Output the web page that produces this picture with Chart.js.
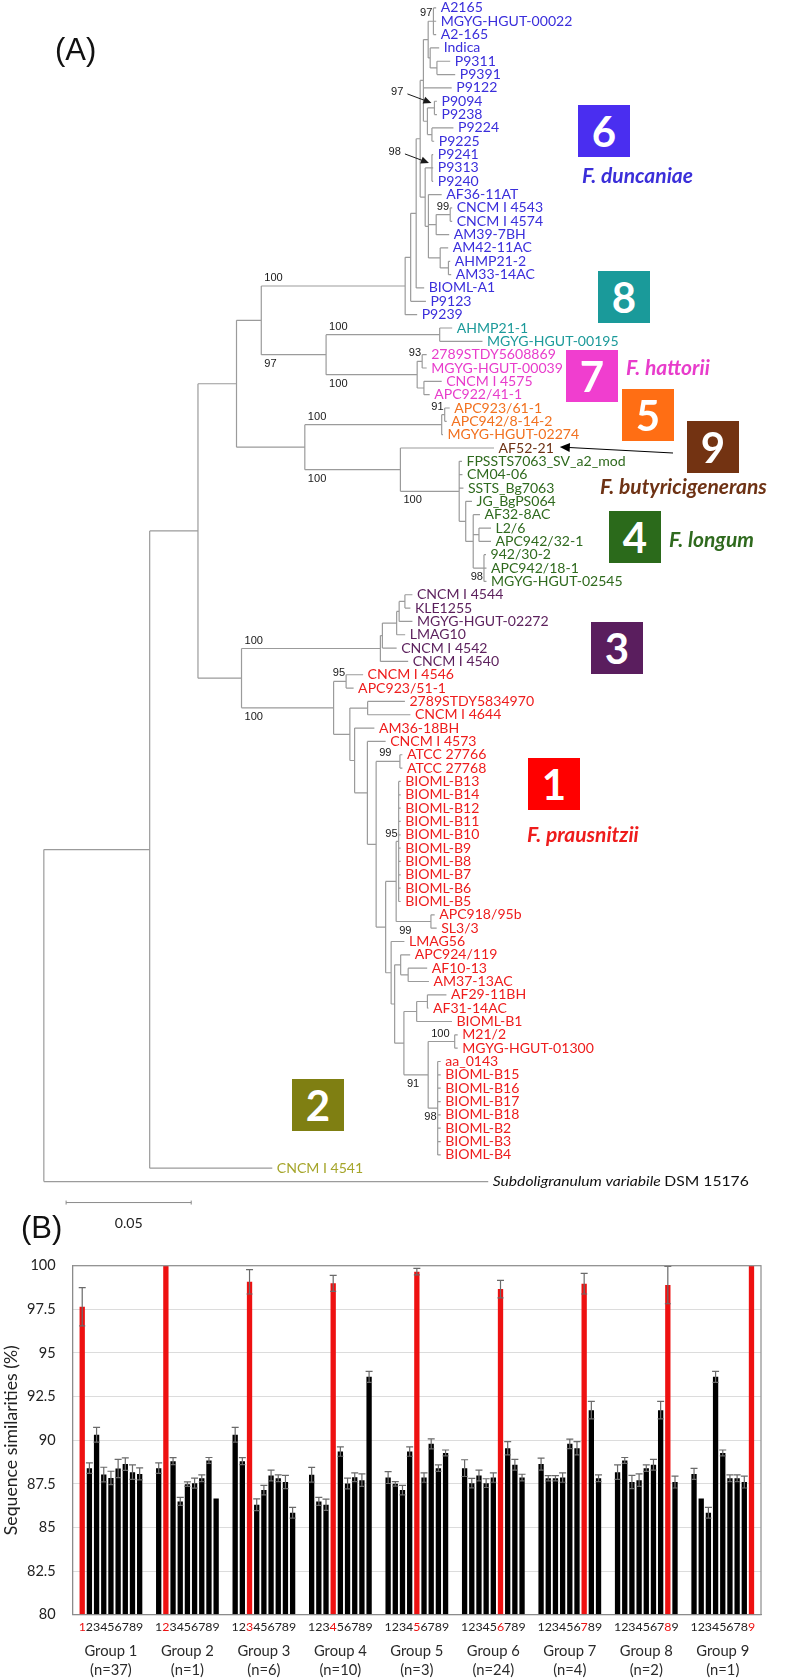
<!DOCTYPE html>
<html>
<head>
<meta charset="utf-8">
<script src="https://cdn.jsdelivr.net/npm/chart.js@4.4.1/dist/chart.umd.min.js"></script>
<style>
  body { margin: 0; background: #fff; }
  #fig { position: relative; width: 795px; height: 1680px; overflow: hidden; background: #fff; }
  canvas { position: absolute; left: 0; }
  .panel { position: absolute; font: 31px "Liberation Sans", Arial, sans-serif; color: #111; line-height: 1; }
  .box { position: absolute; width: 52px; height: 52px; color: #fff; font: bold 42px Lato, sans-serif;
         display: flex; align-items: center; justify-content: center; line-height: 1; }
  .sp { position: absolute; font: italic bold 21px Lato, sans-serif; line-height: 1; white-space: nowrap;
        transform: translateY(-50%); }
</style>
</head>
<body>
<div id="fig">
  <canvas id="tree" width="795" height="1240" style="top:0"></canvas>
  <canvas id="bars" width="795" height="440" style="top:1240px"></canvas>

  <div class="panel" style="left:55px;top:34px">(A)</div>
  <div class="panel" style="left:21px;top:1212px">(B)</div>

  <div class="box" style="left:578px;top:105px;background:#4a2ef0">6</div>
  <div class="box" style="left:598px;top:271px;background:#1a9a9a">8</div>
  <div class="box" style="left:566px;top:350px;background:#f03ecf">7</div>
  <div class="box" style="left:622px;top:389px;background:#ff6e14">5</div>
  <div class="box" style="left:687px;top:421px;background:#733312">9</div>
  <div class="box" style="left:609px;top:511px;background:#2b6a1b">4</div>
  <div class="box" style="left:591px;top:622px;background:#5a1e5e">3</div>
  <div class="box" style="left:528px;top:758px;background:#ff0000">1</div>
  <div class="box" style="left:292px;top:1079px;background:#7f7f12">2</div>

  <div class="sp" style="left:582px;top:174px;color:#3b2fd9">F. duncaniae</div>
  <div class="sp" style="left:626px;top:366px;color:#e83ccb">F. hattorii</div>
  <div class="sp" style="left:600px;top:485px;color:#6e3214">F. butyricigenerans</div>
  <div class="sp" style="left:669px;top:538px;color:#2f6a1e">F. longum</div>
  <div class="sp" style="left:527px;top:833px;color:#ee1c1c">F. prausnitzii</div>
</div>

<script>
// ---------- (A) tree: Newick pieces, branch lengths in substitutions/site ----------

// group 6, F. duncaniae
const c6Top = "((A2165:0.0011,MGYG-HGUT-00022:0.0011,A2-165:0.0011)97:0.0021,(Indica:0.0036,(P9311:0.0053,P9391:0.0073):0.0027):0.0008)";
const c6Mid = "((P9094:0.0010,P9238:0.0010)97*:0.0028,(P9224:0.0086,P9225:0.0009):0.0018)";
const c6Low = "((P9241:0.0005,P9313:0.0005,P9240:0.0005)98*:0.0027,(AF36-11AT:0.0053,((CNCM I 4543:0.0008,CNCM I 4574:0.0008)99:0.0056,AM39-7BH:0.0052):0.0031,(AM42-11AC:0.0032,(AHMP21-2:0.0007,AM33-14AC:0.0011):0.0033):0.0047):0.0013)";
const clade6 = `((((((${c6Top}:0.0019,P9122:0.0113,${c6Mid}:0.0016):0.0013,${c6Low}:0.0020):0.0016,BIOML-A1:0.0032):0.0022,P9123:0.0061):0.0022,P9239:0.0048)`;

const clade8 = "(AHMP21-1:0.0050,MGYG-HGUT-00195:0.0171)";
const clade7 = "((2789STDY5608869:0.0018,MGYG-HGUT-00039:0.0018)93:0.0020,(CNCM I 4575:0.0071,APC922/41-1:0.0023):0.0027)";
const clade5 = "((APC923/61-1:0.0020,APC942/8-14-2:0.0008)91:0.0012,MGYG-HGUT-02274:0.0005)";
const clade9 = "AF52-21";
const clade4 = "(FPSSTS7063_SV_a2_mod:0.0011,CM04-06:0.0013,SSTS_Bg7063:0.0017,(JG_BgPS064:0.0025,(AF32-8AC:0.0027,(L2/6:0.0048,APC942/32-1:0.0048):0.0023,(942/30-2:0.0008,APC942/18-1:0.0010,MGYG-HGUT-02545:0.0010)98:0.0043):0.0030):0.0026)";
const clade3 = "(((((CNCM I 4544:0.0030,KLE1255:0.0022):0.0023,MGYG-HGUT-02272:0.0053):0.0010,LMAG10:0.0034):0.0057,CNCM I 4542:0.0057):0.0008,CNCM I 4540:0.0111)";

// group 1, F. prausnitzii
const c1B = "(BIOML-B13:0.0008,BIOML-B14:0.0008,BIOML-B12:0.0008,BIOML-B11:0.0008,BIOML-B10:0.0008,BIOML-B9:0.0008,BIOML-B8:0.0008,BIOML-B7:0.0008,BIOML-B6:0.0008,BIOML-B5:0.0008)";
const c1W = `(${c1B}95:0.0010,(APC918/95b:0.0015,SL3/3:0.0023)99:0.0139)`;
const c1Z1 = "(APC924/119:0.0038,(AF10-13:0.0076,AM37-13AC:0.0083):0.0030)";
const c1AF = "((AF29-11BH:0.0076,AF31-14AC:0.0004):0.0043,BIOML-B1:0.0141)";
const c1B2 = "(aa_0143:0.0012,BIOML-B15:0.0012,BIOML-B16:0.0012,BIOML-B17:0.0012,BIOML-B18:0.0012,BIOML-B2:0.0012,BIOML-B3:0.0012,BIOML-B4:0.0012)";
const c1Z2 = `(${c1AF}:0.0051,((M21/2:0.0012,MGYG-HGUT-01300:0.0012)100:0.0106,${c1B2}98:0.0038)91:0.0097)`;
const c1X = `(LMAG56:0.0053,(${c1Z1}:0.0024,${c1Z2}:0.0037):0.0014)`;
const c1T = `((ATCC 27766:0.0010,ATCC 27768:0.0010)99:0.0095,(${c1W}:0.0042,${c1X}:0.0022):0.0038)`;
const clade1 = `((CNCM I 4546:0.0068,APC923/51-1:0.0030)95:0.0050,((2789STDY5834970:0.0149,CNCM I 4644:0.0171):0.0071,(AM36-18BH:0.0079,(CNCM I 4573:0.0073,${c1T}:0.0035):0.0051):0.0019):0.0065)`;

const clade2 = "CNCM I 4541";
const outgroup = "Subdoligranulum variabile DSM 15176";

// backbone
const nodeE = `(${clade8}100:0.0454,${clade7}100:0.0364)`;
const nodeF = `(${clade9}:0.0374,${clade4}100:0.0235)`;
const nodeNC = `(${clade6}100:0.0575,${nodeE}97:0.0259)`;
const nodeD = `(${clade5}100:0.0547,${nodeF}100:0.0382)`;
const nodeC = `(${clade3}100:0.0555,${clade1}100:0.0368)`;
const treeNewick = `((((${nodeNC}:0.0099,${nodeD}:0.0273):0.0154,${nodeC}:0.0174):0.0193,${clade2}:0.0490):0.0423,${outgroup}:0.1776);`;

const cladeStrings = [clade6, clade8, clade7, clade5, clade9, clade4, clade3, clade1, clade2, outgroup];
const cladeColors  = ['#3a2edb', '#1c9a9a', '#e83ccb', '#f2711f', '#6e3214', '#2f6a1e', '#5b1f5c', '#ee1c1c', '#a5a52a', '#111111'];
const scaleBarLength = 0.05;

// ---------- (B) sequence similarities: row = group, column = compared group 1..9 ----------
const groupNames = ['Group 1', 'Group 2', 'Group 3', 'Group 4', 'Group 5', 'Group 6', 'Group 7', 'Group 8', 'Group 9'];
const groupSizes = [37, 1, 6, 10, 3, 24, 4, 2, 1];
const simG1 = [97.65, 88.40, 90.31, 88.03, 87.84, 88.38, 88.63, 88.17, 88.07];
const simG2 = [88.40, 100.0, 88.80, 86.49, 87.48, 87.54, 87.82, 88.84, 86.66];
const simG3 = [90.31, 88.80, 99.08, 86.30, 87.14, 87.98, 87.82, 87.60, 85.84];
const simG4 = [88.02, 86.49, 86.30, 98.99, 89.35, 87.52, 87.88, 87.71, 93.63];
const simG5 = [87.86, 87.50, 87.14, 89.35, 99.66, 87.86, 89.79, 88.40, 89.27];
const simG6 = [88.40, 87.54, 87.98, 87.54, 87.86, 98.66, 89.54, 88.59, 87.86];
const simG7 = [88.63, 87.82, 87.82, 87.86, 89.79, 89.54, 98.97, 91.72, 87.82];
const simG8 = [88.17, 88.84, 87.60, 87.71, 88.40, 88.59, 91.72, 98.89, 87.60];
const simG9 = [88.07, 86.66, 85.84, 93.63, 89.27, 87.82, 87.82, 87.60, 100.0];
const errG1 = [1.10, 0.30, 0.42, 0.42, 0.38, 0.52, 0.36, 0.42, 0.34];
const errG2 = [0.30, 0, 0.20, 0.23, 0.13, 0.29, 0.19, 0.17, 0];
const errG3 = [0.42, 0.20, 0.70, 0.34, 0.27, 0.31, 0.19, 0.38, 0.31];
const errG4 = [0.42, 0.23, 0.32, 0.46, 0.27, 0.31, 0.25, 0.36, 0.31];
const errG5 = [0.34, 0.13, 0.27, 0.27, 0.19, 0.27, 0.29, 0.19, 0.17];
const errG6 = [0.48, 0.27, 0.31, 0.25, 0.27, 0.50, 0.38, 0.31, 0.19];
const errG7 = [0.34, 0.15, 0.15, 0.27, 0.27, 0.38, 0.59, 0.50, 0.19];
const errG8 = [0.42, 0.17, 0.38, 0.36, 0.19, 0.31, 0.50, 1.07, 0.34];
const errG9 = [0.32, 0, 0.31, 0.31, 0.17, 0.19, 0.19, 0.34, 0];
const yTicks = [80, 82.5, 85, 87.5, 90, 92.5, 95, 97.5, 100];

const RED = '#ee1111';
const FAM = 'Lato';
const simByGroup = [simG1, simG2, simG3, simG4, simG5, simG6, simG7, simG8, simG9];
const errByGroup = [errG1, errG2, errG3, errG4, errG5, errG6, errG7, errG8, errG9];

// text sizes fitted to the widths measured on the figure
const fit = {};
function computeFonts() {
  const m = document.createElement('canvas').getContext('2d');
  const w = (font, s) => { m.font = font; return m.measureText(s).width; };
  const clamp = v => Math.min(1.7, Math.max(0.7, v));
  fit.leaf = clamp(131.7 / w(`14px ${FAM}`, 'MGYG-HGUT-00022'));
  fit.out = clamp(256 / (w(`italic 14px ${FAM}`, 'Subdoligranulum variabile ') + w(`14px ${FAM}`, 'DSM 15176')));
  fit.boot = 20 * 18.5 / w('20px "Liberation Sans"', '100');
  fit.ytick = 20 * 28.7 / w(`20px ${FAM}`, '97.5');
  fit.xtick = 20 * 53 / w(`20px ${FAM}`, 'Group 1');
  fit.title = 20 * 190 / w(`20px ${FAM}`, 'Sequence similarities (%)');
  fit.digit = 20 * 64.7 / w(`20px ${FAM}`, '123456789');
  fit.scale = 20 * 28 / w(`20px ${FAM}`, '0.05');
}
computeFonts();

// ---------- newick parsing / layout ----------
function parseNewick(s) {
  let i = 0;
  const stop = ':,();';
  function readLabel() {
    let t = '';
    while (i < s.length && !stop.includes(s[i])) t += s[i++];
    return t.trim();
  }
  function node() {
    const n = { children: [], name: '', support: '', len: 0 };
    if (s[i] === '(') {
      i++;
      n.children.push(node());
      while (s[i] === ',') { i++; n.children.push(node()); }
      i++; // ')'
      n.support = readLabel();
    } else {
      n.name = readLabel();
    }
    if (s[i] === ':') { i++; n.len = parseFloat(readLabel()); }
    return n;
  }
  return node();
}

function leafNames(n, out = []) {
  if (!n.children.length) out.push(n.name); else n.children.forEach(c => leafNames(c, out));
  return out;
}

const leafColor = {};
cladeStrings.forEach((s, k) => leafNames(parseNewick(s)).forEach(nm => { leafColor[nm] = cladeColors[k]; }));

const root = parseNewick(treeNewick);
const leaves = [], inner = [];
let row = 0;
(function layout(n, x, parent) {
  n.x = x; n.parent = parent;
  if (!n.children.length) { n.y = row++; leaves.push(n); return; }
  n.children.forEach(c => layout(c, x + c.len, n));
  n.y = (n.children[0].y + n.children[n.children.length - 1].y) / 2;
  inner.push(n);
})(root, 0, null);

// edges as line pieces separated by gaps
const edgePts = [];
const gap = { x: NaN, y: NaN };
[...inner, ...leaves].forEach(n => {
  if (n.parent) edgePts.push({ x: n.parent.x, y: n.y }, { x: n.x, y: n.y }, gap);
  if (n.children.length) {
    edgePts.push({ x: n.x, y: n.children[0].y }, { x: n.x, y: n.children[n.children.length - 1].y }, gap);
  }
});

function arrow(ctx, x1, y1, x2, y2, head) {
  const a = Math.atan2(y2 - y1, x2 - x1);
  ctx.beginPath(); ctx.moveTo(x1, y1); ctx.lineTo(x2 - Math.cos(a) * head * 0.8, y2 - Math.sin(a) * head * 0.8); ctx.stroke();
  ctx.beginPath();
  ctx.moveTo(x2, y2);
  ctx.lineTo(x2 - head * Math.cos(a) + head * 0.45 * Math.sin(a), y2 - head * Math.sin(a) - head * 0.45 * Math.cos(a));
  ctx.lineTo(x2 - head * Math.cos(a) - head * 0.45 * Math.sin(a), y2 - head * Math.sin(a) + head * 0.45 * Math.cos(a));
  ctx.closePath(); ctx.fill();
}

const treeLabels = {
  id: 'treeLabels',
  afterDatasetsDraw(chart) {
    const { ctx, scales: { x, y } } = chart;
    ctx.save();
    ctx.textBaseline = 'middle';
    ctx.textAlign = 'left';

    // leaf names (stretched sideways to the figure's wide lettering)
    let af52End = null;
    leaves.forEach(l => {
      const px = x.getPixelForValue(l.x) + 4.5, py = y.getPixelForValue(l.y);
      ctx.fillStyle = leafColor[l.name] || '#111';
      ctx.save();
      ctx.translate(px, py);
      if (l.name === outgroup) {
        const it = 'Subdoligranulum variabile';
        ctx.scale(fit.out, 1);
        ctx.font = `italic 14px ${FAM}`;
        ctx.fillText(it, 0, 0);
        const w = ctx.measureText(it + ' ').width;
        ctx.font = `14px ${FAM}`;
        ctx.fillText(l.name.slice(it.length + 1), w, 0);
      } else {
        ctx.scale(fit.leaf, 1);
        ctx.font = `14px ${FAM}`;
        ctx.fillText(l.name, 0, 0);
        if (l.name === clade9) af52End = { x: px + ctx.measureText(l.name).width * fit.leaf + 6, y: py - 1 };
      }
      ctx.restore();
    });

    // bootstrap values
    ctx.font = `${fit.boot}px "Liberation Sans"`;
    ctx.fillStyle = '#1a1a1a'; ctx.strokeStyle = '#1a1a1a'; ctx.lineWidth = 1;
    inner.forEach(n => {
      if (!n.support || !n.parent) return;
      const nx = x.getPixelForValue(n.x), ny = y.getPixelForValue(n.y);
      const sibs = n.parent.children;
      const lower = sibs[sibs.length - 1] === n;
      const txt = n.support.replace('*', '');
      if (n.support.endsWith('*')) {
        ctx.textAlign = 'right';
        ctx.fillText(txt, nx - 31, ny - 16);
        arrow(ctx, nx - 27, ny - 14, nx - 3, ny - 5, 8);
        return;
      }
      const branch = nx - x.getPixelForValue(n.parent.x);
      const ty = lower ? ny + 9 : ny - 8;
      if (branch >= 20) { ctx.textAlign = 'left'; ctx.fillText(txt, x.getPixelForValue(n.parent.x) + 3, ty); }
      else { ctx.textAlign = 'right'; ctx.fillText(txt, nx - 1, ty); }
    });

    // arrow from box 9 to AF52-21
    if (af52End) { ctx.fillStyle = '#000'; ctx.strokeStyle = '#000'; arrow(ctx, 673, 453, af52End.x, af52End.y, 10); }

    // scale bar
    const by = y.getPixelForValue(leaves.length - 1) + 21;
    const bx1 = x.getPixelForValue(0.0089), bx2 = x.getPixelForValue(0.0089 + scaleBarLength);
    ctx.strokeStyle = '#8a8a8a'; ctx.lineWidth = 1;
    ctx.beginPath();
    ctx.moveTo(bx1, by); ctx.lineTo(bx2, by);
    ctx.moveTo(bx1, by - 2); ctx.lineTo(bx1, by + 2);
    ctx.moveTo(bx2, by - 2); ctx.lineTo(bx2, by + 2);
    ctx.stroke();
    ctx.fillStyle = '#222'; ctx.font = `${fit.scale}px ${FAM}`; ctx.textAlign = 'center';
    ctx.fillText(String(scaleBarLength), (bx1 + bx2) / 2, by + 21);
    ctx.restore();
  }
};

const treeChart = new Chart(document.getElementById('tree'), {
  type: 'scatter',
  data: { datasets: [{ data: edgePts, showLine: true, spanGaps: false, borderColor: '#9b9b9b', borderWidth: 1.2, pointRadius: 0 }] },
  options: {
    responsive: false, animation: false, events: [],
    layout: { padding: 0 },
    plugins: { legend: { display: false }, tooltip: { enabled: false } },
    scales: {
      x: { type: 'linear', display: false, min: -0.01728, max: 0.29996 },
      y: { type: 'linear', display: false, reverse: true, min: -0.547, max: 92.337 }
    }
  },
  plugins: [treeLabels]
});

// ---------- (B) bar chart ----------
const barDecor = {
  id: 'barDecor',
  afterDatasetsDraw(chart) {
    const { ctx, chartArea: a, scales: { y } } = chart;
    ctx.save();
    // error bars
    ctx.strokeStyle = '#6a6a6a'; ctx.lineWidth = 1.2;
    chart.data.datasets.forEach((ds, j) => {
      chart.getDatasetMeta(j).data.forEach((bar, g) => {
        const e = errByGroup[g][j];
        if (!e) return;
        const v = ds.data[g];
        const t = y.getPixelForValue(Math.min(v + e, 100)), b = y.getPixelForValue(v - e);
        ctx.beginPath();
        ctx.moveTo(bar.x, t); ctx.lineTo(bar.x, b);
        ctx.moveTo(bar.x - 3.5, t); ctx.lineTo(bar.x + 3.5, t);
        ctx.moveTo(bar.x - 3, b); ctx.lineTo(bar.x + 3, b);
        ctx.stroke();
      });
    });
    // frame
    ctx.strokeStyle = '#8c8c8c'; ctx.lineWidth = 1.2;
    ctx.strokeRect(a.left, a.top, a.right - a.left, a.bottom - a.top);
    // digit row under the bars, own group in red
    ctx.font = `${fit.digit}px ${FAM}`; ctx.textAlign = 'center'; ctx.textBaseline = 'middle';
    chart.data.datasets.forEach((ds, j) => {
      chart.getDatasetMeta(j).data.forEach((bar, g) => {
        ctx.fillStyle = g === j ? RED : '#222';
        ctx.fillText(String(j + 1), bar.x, a.bottom + 12.5);
      });
    });
    ctx.restore();
  }
};

const barChart = new Chart(document.getElementById('bars'), {
  type: 'bar',
  data: {
    labels: groupNames.map((g, k) => [g, `(n=${groupSizes[k]})`]),
    datasets: groupNames.map((_, j) => ({
      label: String(j + 1),
      data: simByGroup.map(r => r[j]),
      backgroundColor: groupNames.map((_, g) => (g === j ? RED : '#000')),
      borderWidth: 0,
      categoryPercentage: 0.845,
      barPercentage: 0.74
    }))
  },
  options: {
    responsive: false, animation: false, events: [],
    layout: { padding: { left: 0, right: 34, top: 25.7, bottom: 0 } },
    plugins: { legend: { display: false }, tooltip: { enabled: false } },
    scales: {
      x: {
        grid: { display: false, drawTicks: false },
        border: { color: '#8c8c8c' },
        ticks: { color: '#2a2a2a', font: { family: FAM, size: fit.xtick, lineHeight: '19px' }, padding: 27, maxRotation: 0, autoSkip: false },
        afterFit: s => { s.height = 65.3; }
      },
      y: {
        min: 80, max: 100,
        afterBuildTicks: s => { s.ticks = yTicks.map(v => ({ value: v })); },
        grid: { color: '#dcdcdc', drawTicks: false },
        border: { color: '#8c8c8c' },
        ticks: { color: '#222', font: { family: FAM, size: fit.ytick }, padding: 17 },
        title: { display: true, text: 'Sequence similarities (%)', color: '#222', font: { family: FAM, size: fit.title }, padding: { top: 1, bottom: 0 } },
        afterFit: s => { s.width = 72.7; }
      }
    }
  },
  plugins: [barDecor]
});

// refit and redraw once the canvas fonts are surely available
Promise.all([`14px ${FAM}`, `italic 14px ${FAM}`, '20px "Liberation Sans"'].map(f => document.fonts.load(f)))
  .then(() => {
    computeFonts();
    const sc = barChart.options.scales;
    sc.x.ticks.font = { family: FAM, size: fit.xtick, lineHeight: '19px' };
    sc.y.ticks.font = { family: FAM, size: fit.ytick };
    sc.y.title.font = { family: FAM, size: fit.title };
    treeChart.update('none');
    barChart.update('none');
  })
  .catch(() => {});
</script>
</body>
</html>
